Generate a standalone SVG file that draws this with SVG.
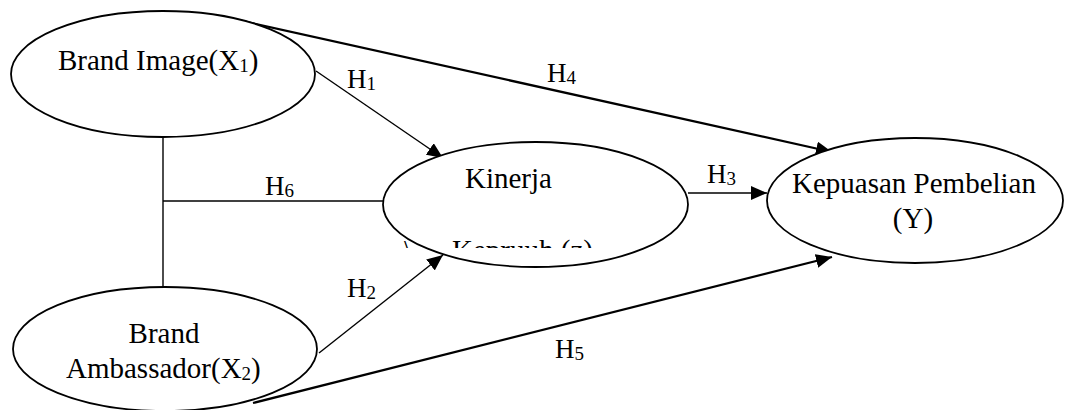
<svg xmlns="http://www.w3.org/2000/svg" width="1065" height="410" viewBox="0 0 1065 410">
<style>
.node{fill:#fff;stroke:#000;stroke-width:1.8}
.t{font-family:"Liberation Serif","Times New Roman",serif;font-size:29px;fill:#000}
.lbl{font-family:"Liberation Serif","Times New Roman",serif;font-size:27px;fill:#000}
.thin{stroke:#000;stroke-width:1.4;fill:none}
.thick{stroke:#000;stroke-width:2.2;fill:none}
</style>
<defs>
<marker id="arr" markerUnits="userSpaceOnUse" markerWidth="18" markerHeight="14" refX="16" refY="7" orient="auto">
<path d="M0,0 L16,7 L0,14 Z" fill="#000"/>
</marker>
<clipPath id="clipZ"><rect x="380" y="200" width="300" height="48"/></clipPath>
</defs>
<rect width="1065" height="410" fill="#fff"/>
<g id="connectors">
<line class="thin" x1="163" y1="137" x2="163" y2="287"/>
<line class="thin" x1="163" y1="201" x2="383" y2="201"/>
<line class="thin" x1="316" y1="71" x2="443" y2="158" marker-end="url(#arr)"/>
<line class="thin" x1="319" y1="353" x2="443" y2="255" marker-end="url(#arr)"/>
<line class="thin" x1="688" y1="193" x2="767" y2="193" marker-end="url(#arr)"/>
<line class="thick" x1="238" y1="20" x2="832" y2="152" marker-end="url(#arr)"/>
<line class="thick" x1="253" y1="403" x2="832" y2="257" marker-end="url(#arr)"/>
<text class="lbl" x="347" y="88">H<tspan font-size="19" dy="2">1</tspan></text>
<text class="lbl" x="347" y="297">H<tspan font-size="19" dy="2">2</tspan></text>
<text class="lbl" x="707" y="183">H<tspan font-size="19" dy="2">3</tspan></text>
<text class="lbl" x="547" y="82">H<tspan font-size="19" dy="2">4</tspan></text>
<text class="lbl" x="555" y="358">H<tspan font-size="19" dy="2">5</tspan></text>
<text class="lbl" x="265" y="195">H<tspan font-size="19" dy="2">6</tspan></text>
</g>
<g id="node-brand-image">
<ellipse class="node" cx="163" cy="74" rx="152" ry="63"/>
<text class="t" x="58" y="70">Brand Image(X<tspan font-size="19" dy="2">1</tspan><tspan dy="-2">)</tspan></text>
</g>
<g id="node-brand-ambassador">
<ellipse class="node" cx="165" cy="349" rx="152" ry="62"/>
<text class="t" x="164" y="343" text-anchor="middle">Brand</text>
<text class="t" x="66" y="378">Ambassador(X<tspan font-size="19" dy="2">2</tspan><tspan dy="-2">)</tspan></text>
</g>
<g id="node-kinerja">
<ellipse class="node" cx="535.5" cy="204.5" rx="152.5" ry="62.5"/>
<text class="t" x="465" y="188">Kinerja</text>
<g clip-path="url(#clipZ)">
<text class="t" x="404" y="260">\</text>
<text class="t" x="452" y="260">Kepruuh (z)</text>
</g>
</g>
<g id="node-kepuasan">
<ellipse class="node" cx="915" cy="200.5" rx="148" ry="62.5"/>
<text class="t" x="914" y="193" text-anchor="middle">Kepuasan Pembelian</text>
<text class="t" x="913" y="228" text-anchor="middle">(Y)</text>
</g>
</svg>
